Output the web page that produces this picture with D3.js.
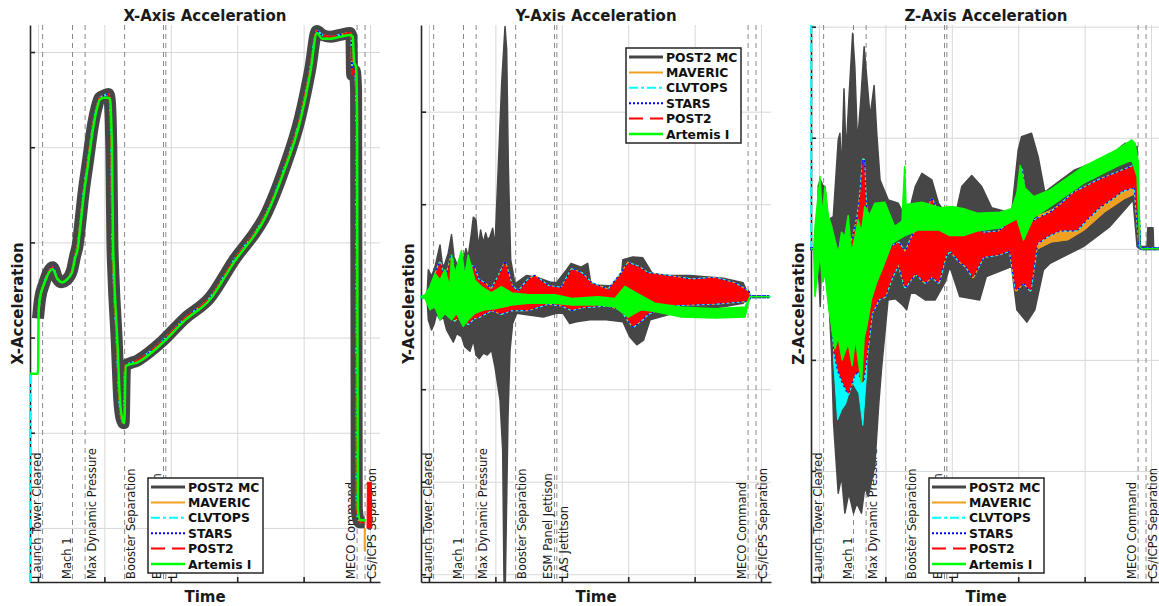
<!DOCTYPE html>
<html><head><meta charset="utf-8">
<script src="https://cdn.jsdelivr.net/npm/d3@7"></script>
<style>body{margin:0;background:#fff;} svg{display:block;font-family:"DejaVu Sans",sans-serif;}</style>
</head><body><svg id="c" width="1159" height="606"></svg>
<script>
// ---------------- data ----------------
const timeDomain = [-12, 515];
const timeTicks = [0, 100, 200, 300, 400, 500];
const eventNames = ["Launch Tower Cleared","Mach 1","Max Dynamic Pressure","Booster Separation","ESM Panel Jettison","LAS Jettitson","MECO Command","CS/ICPS Separation"];
const eventTimes = [7, 52, 71, 130.5, 189, 192.5, 480.5, 492.5];
const eventSide = ["left","left","right","right","left","right","left","right"];
const seriesNames = ["POST2 MC","MAVERIC","CLVTOPS","STARS","POST2","Artemis I"];

const xAccTicks = [0, 0.5, 1, 1.5, 2, 2.5];
const yAccTicks = [-3, -2, -1, 0, 1, 2];
const zAccTicks = [-3, -2, -1, 0, 1, 2];

// X-axis acceleration: simulations (nominal) and flight
const xSim = [[0,1.10],[3,1.20],[9,1.28],[22,1.37],[29,1.31],[36,1.29],[42,1.30],[51,1.35],[56,1.43],[60,1.49],[63,1.58],[69,1.77],[75,1.92],[83,2.12],[90,2.23],[93,2.26],[99,2.27],[106,2.28],[108,2.25],[110.5,1.98],[112,1.51],[113.5,1.34],[118.5,0.99],[122.5,0.67],[125.5,0.58],[129,0.55],[131,0.85],[150,0.88],[187,0.98],[221,1.10],[259,1.21],[294,1.40],[345,1.66],[369,1.87],[395,2.16],[410,2.41],[420,2.61],[428,2.59],[440,2.58],[455,2.59],[470,2.60],[472,2.58],[473,2.38],[477,2.40],[479,2.30],[480,0.10],[484,0.03],[492,0.03]];
const xFlight = [[-12,0.81],[0,0.81],[1,1.13],[3,1.21],[9,1.28],[22,1.36],[29,1.31],[36,1.29],[42,1.30],[51,1.34],[56,1.42],[60,1.47],[63,1.56],[69,1.75],[75,1.90],[83,2.10],[90,2.22],[93,2.25],[99,2.26],[106,2.26],[108.5,2.25],[111.4,1.98],[113,1.51],[114.5,1.34],[119.4,0.99],[123.5,0.67],[126.5,0.58],[130,0.55],[132,0.85],[150,0.87],[187,0.97],[221,1.09],[259,1.20],[294,1.39],[345,1.65],[369,1.86],[395,2.14],[410,2.39],[420,2.60],[428,2.57],[440,2.57],[455,2.58],[470,2.59],[474,2.58],[476,2.45],[479,2.42],[480.5,2.14],[481.5,0.10],[485,0.04],[494,0.04]];
const xClvStart = [[-11.7,-0.284],[-11.7,0.81]];
const xPost2TailUpper = [[495.5,0.0],[496,0.24],[502,0.24],[502.5,0.0]];
const xPost2TailLower = [[495.5,0.0],[496,0.0],[502,0.0],[502.5,0.0]];
const xMavericTail = [[492,0.0],[492,-0.12]];

// Y-axis acceleration: envelopes [time, value]
const yMCUpper = [[-12,0],[-3,0],[-1,0.29],[4,0.22],[9,0.32],[16.6,0.56],[20.6,0.32],[24,0.36],[29,0.47],[34,0.67],[37.7,0.43],[41.7,0.36],[49,0.32],[55.7,0.52],[59,0.43],[64,0.69],[66.8,0.86],[70.8,0.83],[74.3,0.54],[77.8,0.72],[81.8,0.58],[85.4,0.69],[88.4,0.61],[92,0.65],[96,0.74],[99.4,0.54],[104.4,1.41],[109.5,2.31],[114.5,2.92],[117,2.67],[119.5,1.41],[123,0.40],[129.5,0.14],[147,0.23],[162,0.21],[182,0.16],[192,0.15],[207,0.29],[214,0.36],[229,0.32],[239,0.36],[244,0.13],[288,0.11],[292,0.40],[307,0.43],[322,0.42],[338,0.23],[393,0.23],[443,0.20],[473,0.15],[480,0.04],[483,0],[512,0]];
const yMCLower = [[-12,0],[-3,0],[-1,-0.25],[4,-0.36],[8,-0.29],[11.6,-0.18],[16.6,-0.25],[21.7,-0.22],[26.6,-0.36],[36.7,-0.49],[41.7,-0.40],[49,-0.43],[54,-0.54],[61.7,-0.59],[66.8,-0.47],[70.8,-0.63],[75.8,-0.67],[81.8,-0.61],[87.8,-0.63],[94.4,-0.58],[99.4,-0.76],[107,-1.12],[111,-1.66],[113,-3.08],[115,-3.08],[117,-2.20],[119,-1.30],[122,-0.58],[126,-0.29],[132,-0.18],[172,-0.22],[192,-0.18],[202,-0.18],[212,-0.29],[222,-0.27],[242,-0.25],[267,-0.25],[292,-0.27],[302,-0.43],[313,-0.52],[323,-0.47],[333,-0.25],[368,-0.18],[393,-0.14],[443,-0.11],[473,-0.07],[479,-0.02],[483,0],[512,0]];
const ySimUpper = [[-12,0],[-1,0],[1.5,0.04],[9,0.22],[16.6,0.36],[24,0.14],[29,0.29],[34,0.43],[39,0.11],[49,0.25],[59,0.32],[67,0.32],[74,0.18],[84,0.14],[94,0.07],[104,0.2],[114.5,0.36],[124.5,0.11],[134.5,0.05],[149.6,0.18],[159.6,0.22],[179.7,0.11],[199.8,0.09],[215,0.29],[230,0.25],[245,0.14],[270,0.07],[290,0.25],[300,0.36],[315,0.32],[330,0.25],[360,0.22],[396,0.18],[431,0.20],[461,0.14],[481,0.05],[483,0],[512,0]];
const ySimLower = [[-12,0],[-1,0],[1.5,-0.04],[9,-0.11],[16.6,-0.07],[24,-0.18],[29,-0.14],[39,-0.25],[49,-0.18],[59,-0.29],[67,-0.23],[74,-0.22],[94,-0.14],[109,-0.18],[124.5,-0.14],[149.6,-0.14],[179.7,-0.07],[199.8,-0.09],[215,-0.14],[230,-0.11],[270,-0.09],[290,-0.14],[300,-0.25],[307.5,-0.32],[320,-0.25],[330,-0.18],[360,-0.09],[431,-0.07],[481,-0.04],[483,0],[512,0]];
const yFltUpper = [[-12,0],[-6,0.02],[1.5,0.11],[9,0.25],[16.6,0.18],[24,0.29],[31.5,0.11],[34,0.45],[39,0.25],[49,0.5],[54,0.22],[59,0.45],[69,0.18],[79,0.11],[94,0.04],[109,0.11],[124.5,0.04],[149.6,0.02],[189.8,0.02],[215,-0.02],[255,0],[280,-0.02],[295,0.11],[310,0.05],[340,-0.07],[380,-0.11],[431,-0.13],[476,-0.11],[481,-0.04],[483,0],[512,0]];
const yFltLower = [[-12,0],[-6,-0.02],[1.5,-0.14],[9,-0.11],[16.6,-0.25],[24,-0.18],[34,-0.25],[41.5,-0.18],[51.5,-0.32],[59,-0.25],[69,-0.18],[84,-0.14],[99,-0.13],[124.5,-0.09],[149.6,-0.07],[189.8,-0.07],[215,-0.09],[255,-0.09],[280,-0.11],[300,-0.22],[320,-0.14],[340,-0.16],[380,-0.22],[431,-0.23],[476,-0.22],[481,-0.05],[483,0],[512,0]];

// Z-axis acceleration: envelopes [time, value]
const zMCUpper = [[-12,0],[-3,0],[-1,0.57],[2,0.62],[6,0.57],[9,0.56],[14,0.26],[21.6,0.29],[29,0.98],[31.6,1.04],[34,0.68],[37.7,1.44],[40.7,0.86],[45,1.34],[50.7,1.94],[54,1.64],[58,0.95],[63,1.34],[68,1.82],[72.7,1.49],[77,1.19],[83,1.47],[87,1.04],[92,0.62],[104.4,0.44],[119.4,0.41],[129.5,0.29],[135,0.32],[145,0.56],[155,0.68],[170,0.62],[180,0.41],[190,0.32],[205,0.29],[215,0.56],[230,0.66],[245,0.56],[260,0.37],[290,0.32],[300,0.89],[305,1.01],[320,1.04],[330,0.83],[340,0.51],[360,0.60],[385,0.71],[411,0.77],[436,0.83],[461,0.95],[479,0.92],[481,0.38],[483,0.02],[494,0.02],[495,0.19],[503,0.19],[504,0],[513,0]];
const zMCLower = [[-12,0],[-3,0],[0,-0.3],[2,-0.52],[4,-0.04],[9,-0.2],[14,-0.34],[19,-0.94],[22,-1.57],[29,-2.20],[34,-2.05],[39,-2.38],[45,-2.2],[52,-2.38],[57,-2.29],[64,-2.38],[69,-2.15],[74,-2.23],[84,-1.96],[90,-1.4],[94.5,-1.06],[104,-0.46],[115,-0.45],[125,-0.5],[132,-0.55],[138,-0.4],[145,-0.40],[160,-0.46],[175,-0.46],[190,-0.3],[197,-0.16],[212,-0.43],[242,-0.46],[252,-0.25],[290,-0.16],[298,-0.55],[313,-0.66],[325,-0.55],[338,-0.19],[348,-0.13],[398,0.02],[438,0.20],[473,0.44],[479,0.02],[483,0],[513,0]];
const zSimUpper = [[-12,0],[0,0],[9,0.05],[18,0.2],[24,-0.1],[29,0.02],[35,-0.2],[44,0.0],[52,0.1],[59,0.3],[63,0.5],[67,0.80],[70,0.4],[74,0.26],[85,0.15],[99,0.11],[110,0.02],[120,0.05],[130,-0.04],[140,0.1],[150,0.2],[160,0.26],[170,0.44],[180,0.3],[190,0.14],[197,0.14],[210,0.3],[222,0.26],[235,0.2],[247,0.14],[270,0.15],[293,0.26],[300,0.5],[305,0.71],[310,0.45],[318,0.23],[333,0.28],[348,0.32],[365,0.4],[383,0.50],[400,0.55],[423,0.62],[448,0.68],[473,0.74],[479,0.65],[483,0.02],[486,0],[513,0]];
const zSimLower = [[-12,0],[0,0],[9,-0.04],[18,-0.5],[24,-0.94],[29,-1.09],[36,-1.2],[44,-1.30],[52,-1.15],[59,-1.09],[66,-1.2],[72,-0.94],[79,-0.58],[90,-0.45],[99,-0.43],[110,-0.25],[120,-0.13],[130,-0.34],[145,-0.22],[160,-0.3],[170,-0.25],[180,-0.3],[190,-0.07],[197,-0.01],[210,-0.1],[222,-0.16],[232,-0.25],[247,-0.07],[270,-0.05],[288,-0.01],[297,-0.37],[308,-0.3],[318,-0.37],[328,0.05],[345,0.12],[363,0.17],[388,0.17],[405,0.28],[423,0.38],[440,0.45],[458,0.53],[476,0.56],[483,0.02],[486,0],[513,0]];
const zFltUpper = [[-12,0],[-8,0],[-6,0.2],[1.5,0.65],[5,0.3],[9,0.56],[14,0.3],[19,0.2],[29,-0.04],[34,0.15],[39,0.11],[44,0.3],[49,-0.04],[54,0.1],[59,0.26],[64,0.15],[69,0.38],[76,0.3],[84,0.41],[99,0.42],[114,0.20],[125,0.25],[129,0.74],[131,0.40],[155,0.42],[183,0.37],[200,0.38],[218,0.36],[238,0.32],[273,0.33],[290,0.36],[298,0.5],[303,0.75],[310,0.55],[323,0.47],[348,0.53],[398,0.74],[448,0.89],[471,0.98],[476,0.95],[481,0.77],[483,0.02],[486,0],[513,0]];
const zFltLower = [[-12,0],[-8,0],[-6,-0.43],[1.5,-0.04],[5,-0.3],[9,-0.22],[14,-0.5],[19,-0.7],[24,-0.9],[29,-0.8],[35,-1.0],[44,-0.85],[50,-1.05],[55,-0.8],[59,-1.0],[64,-1.2],[68,-0.8],[72,-0.7],[79,-0.45],[87,-0.3],[94,-0.2],[110,0.05],[130,0.12],[150,0.17],[180,0.17],[197,0.12],[218,0.12],[238,0.16],[273,0.19],[298,0.27],[308,0.08],[323,0.28],[348,0.38],[398,0.59],[448,0.74],[471,0.80],[479,0.65],[483,0.02],[486,0],[513,0]];
const zClvUpper = [[22,-0.9],[30,-1.0],[40,-1.1],[50,-0.9],[58,-0.6],[66,-0.6],[72,-0.8]];
const zClvLower = [[22,-1.0],[28,-1.54],[34,-1.45],[40,-1.4],[50,-1.2],[60,-1.3],[66,-1.59],[72,-1.1]];
const zClvStart = [[-11.7,2.015],[-11.7,0]];
const zMavUpper = [[330,0.3],[350,0.35],[380,0.45],[420,0.58],[460,0.7],[478,0.72]];
const zMavLower = [[330,0.0],[350,0.06],[375,0.08],[400,0.17],[430,0.33],[460,0.45],[478,0.5]];

// ---------------- styles / layout ----------------
const COL = {mc:"#464646", mav:"#f0a020", clv:"#00ffff", stars:"#0000ff", post2:"#ff0000", flt:"#00ff00"};
const seriesColors = [COL.mc, COL.mav, COL.clv, COL.stars, COL.post2, COL.flt];
const seriesDash = [null, null, "9,3,3,3", "2,2", "14,7", null];
const seriesWidth = [3, 2, 2, 2, 2, 2.5];
const panelLeft = [30, 421, 811];
const PW = 350, TOP = 25, BOT = 582;
const svg = d3.select("#c");
const defs = svg.append("defs");

function makePanel(i, title, ylab, yDomain, yTicks) {
  const left = panelLeft[i];
  const xs = d3.scaleLinear().domain(timeDomain).range([left, left + PW]);
  const ys = d3.scaleLinear().domain(yDomain).range([BOT, TOP]);
  const g = svg.append("g");
  g.append("g").attr("transform", `translate(${left},0)`)
    .call(d3.axisLeft(ys).tickValues(yTicks).tickSize(-PW).tickFormat(""))
    .call(a => { a.select(".domain").remove(); a.selectAll("line").attr("stroke", "#d8d8d8"); });
  g.append("g").attr("transform", `translate(0,${BOT})`)
    .call(d3.axisBottom(xs).tickValues(timeTicks).tickSize(-(BOT - TOP)).tickFormat(""))
    .call(a => { a.select(".domain").remove(); a.selectAll("line").attr("stroke", "#d8d8d8"); });
  g.append("g").attr("transform", `translate(${left},0)`)
    .call(d3.axisLeft(ys).tickValues(yTicks).tickSize(-5).tickSizeOuter(0).tickFormat(""))
    .call(a => { a.selectAll("path,line").attr("stroke", "#262626").attr("stroke-width", 1.6); });
  g.append("g").attr("transform", `translate(0,${BOT})`)
    .call(d3.axisBottom(xs).tickValues(timeTicks).tickSize(-5).tickSizeOuter(0).tickFormat(""))
    .call(a => { a.selectAll("path,line").attr("stroke", "#262626").attr("stroke-width", 1.6); });
  g.selectAll(".ev").data(eventTimes).join("line").attr("class", "ev")
    .attr("x1", d => xs(d)).attr("x2", d => xs(d)).attr("y1", TOP).attr("y2", BOT)
    .attr("stroke", "#8a8a8a").attr("stroke-width", 1).attr("stroke-dasharray", "5,4");
  g.selectAll(".evl").data(eventNames).join("text").attr("class", "evl")
    .attr("transform", (d, k) => `translate(${eventSide[k] === "left" ? xs(eventTimes[k]) - 2 : xs(eventTimes[k]) + 2},${BOT - 3}) rotate(-90)`)
    .attr("dy", (d, k) => eventSide[k] === "left" ? 0 : "0.76em")
    .attr("font-size", 11.5).attr("fill", "#1a1a1a").text(d => d);
  g.append("text").attr("x", left + PW / 2).attr("y", 21).attr("text-anchor", "middle")
    .attr("font-weight", "bold").attr("font-size", 15).attr("fill", "#1a1a1a").text(title);
  g.append("text").attr("x", left + PW / 2).attr("y", 602).attr("text-anchor", "middle")
    .attr("font-weight", "bold").attr("font-size", 15).attr("fill", "#1a1a1a").text("Time");
  g.append("text").attr("transform", `translate(${left - 7.5},${(TOP + BOT) / 2}) rotate(-90)`)
    .attr("text-anchor", "middle").attr("font-weight", "bold").attr("font-size", 15)
    .attr("fill", "#1a1a1a").text(ylab);
  defs.append("clipPath").attr("id", "clip" + i).append("rect")
    .attr("x", left - 1).attr("y", TOP).attr("width", PW + 1).attr("height", BOT - TOP);
  const data = svg.append("g").attr("clip-path", `url(#clip${i})`);
  return {xs, ys, data, left};
}

function lineOf(p, pts, curve) {
  return d3.line().curve(curve || d3.curveLinear).x(d => p.xs(d[0])).y(d => p.ys(d[1]))(pts);
}
function bandOf(p, upper, lower) {
  return lineOf(p, upper.concat(lower.slice().reverse())) + "Z";
}
function drawLine(p, pts, color, w, dash, curve) {
  p.data.append("path").attr("d", lineOf(p, pts, curve)).attr("fill", "none")
    .attr("stroke", color).attr("stroke-width", w).attr("stroke-linejoin", "round")
    .attr("stroke-dasharray", dash);
}
function drawBand(p, upper, lower, color, fill, w, dash) {
  p.data.append("path").attr("d", bandOf(p, upper, lower))
    .attr("fill", fill ? color : "none").attr("stroke", color).attr("stroke-width", w)
    .attr("stroke-linejoin", "round").attr("stroke-dasharray", dash);
}

function legend(lx, ly) {
  const g = svg.append("g").attr("transform", `translate(${lx},${ly})`);
  g.append("rect").attr("width", 115).attr("height", 95).attr("fill", "#fff")
    .attr("stroke", "#262626").attr("stroke-width", 1.5);
  const rows = g.selectAll(".lr").data(seriesNames).join("g")
    .attr("transform", (d, k) => `translate(0,${9 + k * 15.4})`);
  rows.append("line").attr("x1", 3).attr("x2", 37).attr("y1", 0).attr("y2", 0)
    .attr("stroke", (d, k) => seriesColors[k]).attr("stroke-width", (d, k) => seriesWidth[k])
    .attr("stroke-dasharray", (d, k) => seriesDash[k]);
  rows.append("text").attr("x", 40).attr("y", 4.5).attr("font-weight", "bold")
    .attr("font-size", 12.4).attr("fill", "#111").text(d => d);
}

// ---------------- X panel ----------------
const M = d3.curveMonotoneX;
const px = makePanel(0, "X-Axis Acceleration", "X-Acceleration", [-0.284, 2.642], xAccTicks);
drawLine(px, xSim, COL.mc, 12, null, M);
drawLine(px, xMavericTail, COL.mav, 2);
drawLine(px, xSim, COL.mav, 2, null, M);
drawLine(px, xClvStart, COL.clv, 2, "9,3,3,3");
drawLine(px, xSim, COL.clv, 2, "9,3,3,3", M);
drawLine(px, xSim, COL.stars, 2, "2,2", M);
drawLine(px, xSim, COL.post2, 2, "14,7", M);
drawBand(px, xPost2TailUpper, xPost2TailLower, COL.post2, true, 1);
drawLine(px, xFlight, COL.flt, 2.5, null, M);
legend(148, 478);

// ---------------- Y panel ----------------
const py = makePanel(1, "Y-Axis Acceleration", "Y-Acceleration", [-3.084, 2.937], yAccTicks);
drawBand(py, yMCUpper, yMCLower, COL.mc, true, 1.5);
drawBand(py, ySimUpper, ySimLower, COL.mav, false, 3);
drawBand(py, ySimUpper, ySimLower, COL.clv, false, 3, "9,3,3,3");
drawBand(py, ySimUpper, ySimLower, COL.stars, false, 3, "2,3");
drawBand(py, ySimUpper, ySimLower, COL.post2, true, 1);
drawBand(py, yFltUpper, yFltLower, COL.flt, true, 1.5);
legend(626, 48);

// ---------------- Z panel ----------------
const pz = makePanel(2, "Z-Axis Acceleration", "Z-Acceleration", [-3, 2.015], zAccTicks);
drawBand(pz, zMCUpper, zMCLower, COL.mc, true, 1.5);
drawBand(pz, zMavUpper, zMavLower, COL.mav, true, 1);
drawBand(pz, zSimUpper, zSimLower, COL.mav, false, 3);
drawBand(pz, zClvUpper, zClvLower, COL.clv, true, 1);
drawLine(pz, zClvStart, COL.clv, 2, "9,3,3,3");
drawBand(pz, zSimUpper, zSimLower, COL.clv, false, 3, "9,3,3,3");
drawBand(pz, zSimUpper, zSimLower, COL.stars, false, 3, "2,3");
drawBand(pz, zSimUpper, zSimLower, COL.post2, true, 1);
drawBand(pz, zFltUpper, zFltLower, COL.flt, true, 1.5);
legend(929, 478);
</script></body></html>
